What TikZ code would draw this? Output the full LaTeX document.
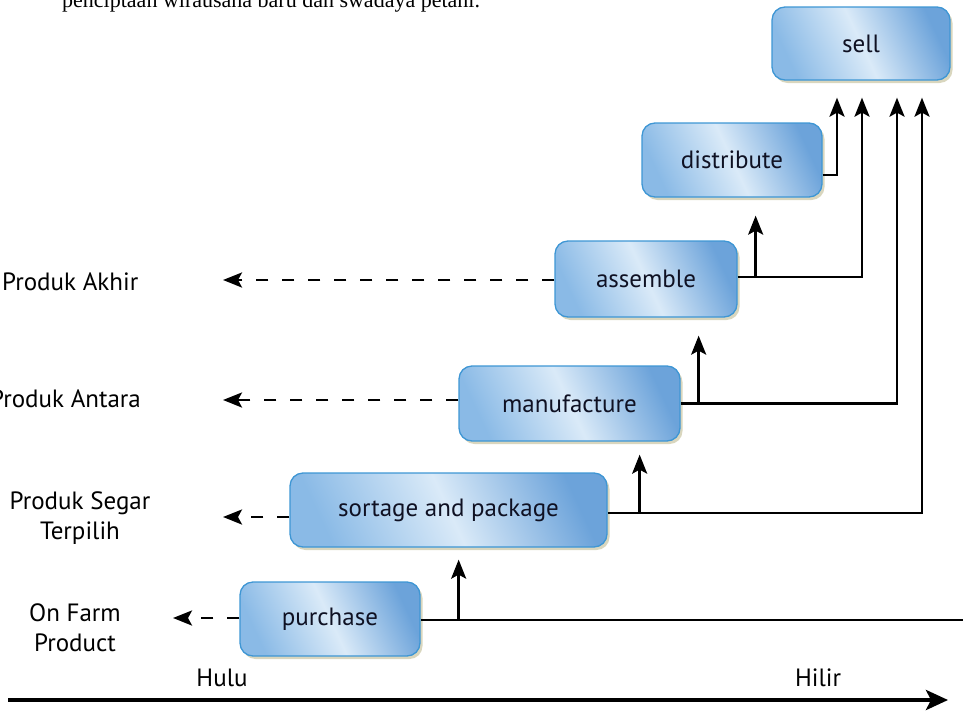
\documentclass[tikz,border=0pt]{standalone}
\usepackage{fontspec}
\setmainfont{Liberation Serif}
\newfontfamily\labelfont{PT Sans}
\usetikzlibrary{arrows.meta,shadows,calc}
\definecolor{boxleft}{RGB}{138,186,230}
\definecolor{boxmid}{RGB}{218,234,248}
\definecolor{boxright}{RGB}{108,163,218}
\definecolor{boxline}{RGB}{62,150,212}
\definecolor{boxtext}{RGB}{15,17,35}
\definecolor{shadowcol}{RGB}{170,165,110}
\tikzset{
  procbox/.style={draw=boxline, line width=1.3pt, rounded corners=13pt,
    left color=boxleft, right color=boxright, middle color=boxmid,
    shading angle=115,
    drop shadow={shadow xshift=2.5pt, shadow yshift=-3pt, opacity=0.45, fill=shadowcol},
    font=\labelfont\fontsize{25}{28}\selectfont, text=boxtext, inner sep=0pt},
  flow/.style={line width=2.6pt, black},
  arr/.style={flow, -{Stealth[length=19pt,width=15pt,inset=4pt]}},
  dasharr/.style={arr, dash pattern=on 12pt off 14pt},
  sidelabel/.style={font=\labelfont\fontsize{25}{30}\selectfont, align=center, inner sep=0pt},
  axis/.style={line width=4pt, -{Stealth[length=22pt,width=20pt,inset=5pt]}}
}
\begin{document}
\begin{tikzpicture}[x=1pt,y=-1pt]
\useasboundingbox (0,0) rectangle (963,712);

% top text (cut off at the top edge)
\node[anchor=base west, inner sep=0pt, font=\fontsize{22}{24}\selectfont] (toptext) at (62,8) {penciptaan wirausaha baru dan swadaya petani.};

% boxes
\node[procbox, minimum width=178pt, minimum height=73pt] (sell) at (861,43.5) {sell};
\node[procbox, minimum width=180pt, minimum height=74pt] (distribute) at (732,160) {distribute};
\node[procbox, minimum width=182pt, minimum height=76pt] (assemble) at (646,279) {assemble};
\node[procbox, minimum width=221pt, minimum height=75pt] (manufacture) at (569.5,403.5) {manufacture};
\node[procbox, minimum width=317pt, minimum height=74pt] (sortage) at (448.5,510) {sortage and package};
\node[procbox, minimum width=180pt, minimum height=74pt] (purchase) at (330,619) {purchase};

% left labels
\node[sidelabel, anchor=west] (lakhir) at (2,282) {Produk Akhir};
\node[sidelabel, anchor=west] (lantara) at (-10,399) {Produk Antara};
\node[sidelabel] (lsegar) at (80,518) {Produk Segar\\Terpilih};
\node[sidelabel] (lfarm) at (75,628) {On Farm\\Product};
\node[sidelabel] (hulu) at (222,678) {Hulu};
\node[sidelabel] (hilir) at (818,678) {Hilir};

% dashed arrows to the left
\coordinate (takhir) at (223,280);
\coordinate (tantara) at (223,400);
\coordinate (tsegar) at (223,517);
\coordinate (tfarm) at (173,618);
\draw[dasharr] (assemble.west |- takhir) -- (takhir);
\draw[dasharr] (manufacture.west |- tantara) -- (tantara);
\draw[dasharr] (sortage.west |- tsegar) -- (tsegar);
\draw[dasharr] (purchase.west |- tfarm) -- (tfarm);

% lines to sell
\draw[arr, shorten >=17pt] ([yshift=-15pt]distribute.east) -| ([xshift=-24pt]sell.south);
\draw[arr, shorten >=17pt] ([yshift=2pt]assemble.east) -| ([xshift=1pt]sell.south);
\draw[arr, shorten >=17pt] (manufacture.east) -| ([xshift=36pt]sell.south);
\draw[arr, shorten >=17pt] ([yshift=-3pt]sortage.east) -| ([xshift=61pt]sell.south);
\coordinate (pend) at (963,620);
\draw[flow] (purchase.east |- pend) -- (pend);

% branch arrows up
\draw[arr, shorten >=18pt] ([xshift=18pt,yshift=2pt]assemble.east) -- ([xshift=18pt]assemble.east |- distribute.south);
\draw[arr, shorten >=18pt] ([xshift=18pt]manufacture.east) -- ([xshift=18pt]manufacture.east |- assemble.south);
\draw[arr, shorten >=13pt] ([xshift=32pt,yshift=-3pt]sortage.east) -- ([xshift=32pt]sortage.east |- manufacture.south);
\draw[arr, shorten >=12pt] ([xshift=38pt]purchase.east |- pend) -- ([xshift=38pt]purchase.east |- sortage.south);

% bottom axis
\coordinate (axl) at (8,700);
\coordinate (axr) at (948,700);
\draw[axis] (axl) -- (axr);
\end{tikzpicture}
\end{document}
